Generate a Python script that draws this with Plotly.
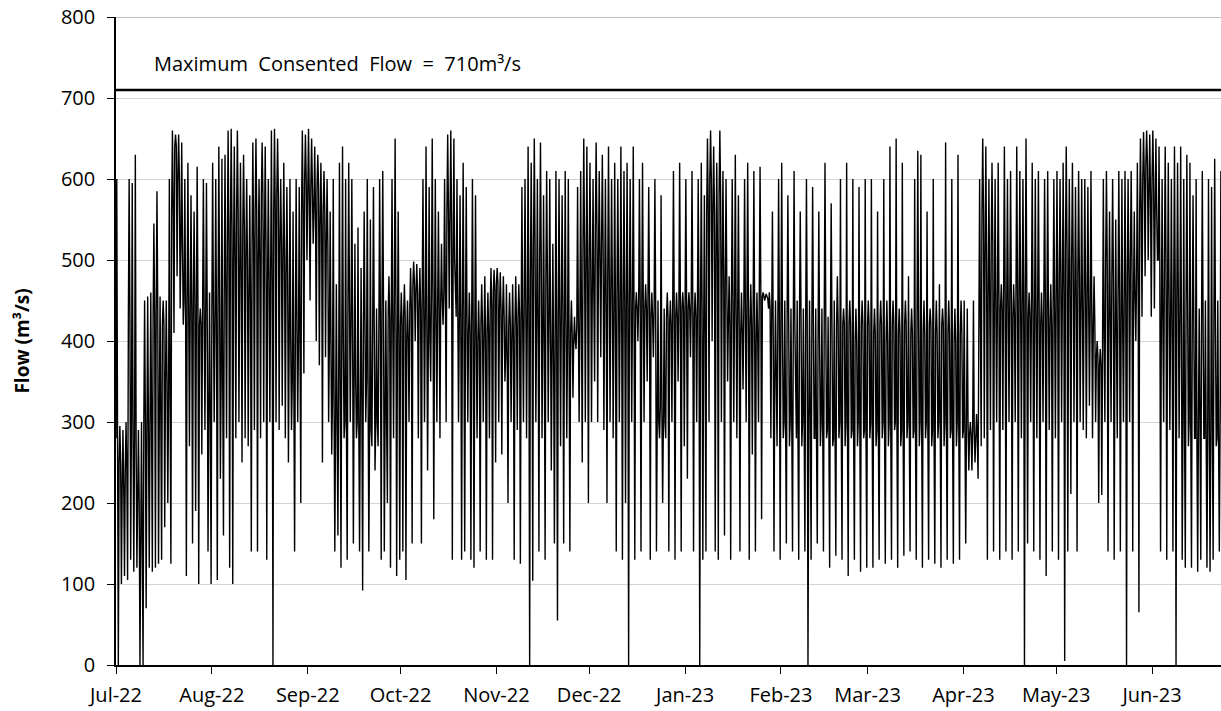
import pandas as pd
import plotly.graph_objects as go

start_date = "2022-07-01"
end_date = "2023-06-23 07:00"

# daily peak, typical (band) and trough flows, m3/s (Jul-22 .. Jun-23)
hi = [
    600, 295, 290, 300, 600, 595, 630, 290, 300, 450, 455, 460, 545, 585, 455, 450, 450, 600, 660, 655, 655, 645, 600, 620, 580, 560, 615, 440, 600, 595, 460,
    620, 600, 640, 625, 630, 660, 662, 640, 660, 620, 630, 600, 580, 645, 650, 600, 645, 640, 600, 660, 662, 650, 600, 620, 590, 600, 560, 600, 590, 660, 655,
    662, 650, 640, 630, 620, 610, 600, 560, 600, 470, 620, 640, 600, 620, 600, 520, 540, 490, 560, 600, 550, 590, 440, 600, 610, 450, 480, 600, 650, 560,
    460, 470, 450, 490, 498, 495, 490, 600, 640, 590, 650, 600, 560, 520, 600, 655, 660, 650, 600, 580, 620, 590, 460, 600, 580, 450, 470, 480, 460, 490, 488,
    490, 485, 480, 470, 460, 470, 480, 470, 590, 600, 640, 620, 650, 600, 645, 580, 610, 600, 520, 610, 600, 580, 610, 600, 450, 430, 590, 610, 650, 640,
    620, 600, 645, 610, 630, 600, 640, 600, 620, 600, 640, 610, 620, 600, 640, 460, 600, 620, 470, 590, 460, 600, 450, 580, 440, 460, 450, 610, 460, 620, 460,
    600, 460, 610, 460, 600, 620, 580, 650, 660, 640, 620, 660, 610, 600, 480, 600, 630, 580, 460, 600, 620, 470, 610, 460, 615, 460, 458, 460, 560, 450, 600,
    620, 450, 580, 440, 610, 450, 560, 440, 600, 450, 590, 440, 560, 440, 620, 430, 570, 450, 480, 600, 440, 620, 450, 600, 440, 590, 450, 600,
    450, 600, 440, 560, 450, 600, 450, 640, 450, 650, 440, 620, 450, 480, 440, 600, 635, 630, 450, 560, 440, 600, 450, 470, 440, 645, 450, 600, 440, 630, 450,
    450, 440, 300, 450, 310, 600, 650, 640, 600, 620, 600, 620, 470, 640, 600, 610, 470, 640, 610, 600, 650, 460, 620, 600, 610, 460, 600, 610, 470, 600,
    610, 600, 620, 640, 600, 620, 590, 610, 600, 600, 590, 610, 480, 400, 390, 600, 610, 560, 600, 550, 610, 600, 610, 600, 610, 560, 620, 650, 658, 660, 655,
    660, 650, 640, 600, 640, 620, 600, 640, 620, 640, 600, 630, 620, 580, 600, 440, 610, 450, 600, 590, 625, 450, 610,
]
mid = [
    280, 250, 220, 240, 430, 300, 280, 200, 150, 300, 290, 300, 430, 440, 300, 420, 350, 330, 560, 640, 600, 520, 450, 445, 440, 450, 440, 420, 440, 430, 300,
    440, 420, 450, 350, 460, 520, 540, 500, 560, 480, 540, 500, 450, 520, 560, 500, 580, 520, 470, 480, 560, 580, 520, 500, 480, 400, 350, 420, 400, 560, 600,
    580, 590, 560, 590, 540, 560, 520, 400, 330, 300, 350, 400, 300, 450, 420, 350, 300, 320, 420, 350, 290, 420, 300, 420, 440, 300, 430, 420, 450, 400,
    420, 430, 400, 440, 470, 460, 440, 450, 430, 400, 460, 420, 440, 450, 460, 560, 550, 500, 430, 420, 430, 420, 410, 420, 400, 400, 420, 400, 410, 440, 460,
    470, 440, 430, 380, 420, 400, 420, 430, 420, 450, 430, 480, 520, 420, 500, 400, 480, 420, 380, 400, 430, 440, 420, 400, 410, 400, 420, 430, 520, 480,
    500, 460, 540, 500, 520, 450, 480, 460, 430, 460, 440, 450, 440, 450, 440, 440, 450, 440, 440, 450, 430, 440, 300, 320, 300, 430, 420, 440, 430, 440, 440,
    440, 440, 450, 430, 440, 440, 400, 560, 600, 560, 500, 580, 480, 470, 420, 450, 440, 430, 410, 440, 440, 420, 430, 400, 460, 455, 455, 440, 420, 350, 420,
    420, 300, 430, 300, 420, 280, 430, 300, 420, 300, 420, 280, 400, 300, 430, 290, 420, 280, 420, 300, 420, 300, 420, 290, 400, 300, 420, 290,
    420, 300, 410, 290, 420, 300, 400, 300, 420, 300, 410, 290, 420, 300, 410, 290, 420, 300, 410, 300, 420, 290, 410, 300, 420, 300, 410, 290, 400, 300, 410,
    290, 300, 285, 290, 280, 420, 560, 500, 450, 520, 440, 450, 440, 460, 440, 450, 430, 460, 450, 440, 460, 430, 440, 430, 440, 420, 450, 430, 420, 440,
    450, 480, 460, 520, 460, 500, 450, 480, 440, 460, 450, 440, 420, 380, 370, 400, 500, 420, 480, 400, 460, 420, 450, 480, 500, 450, 480, 560, 600, 620, 580,
    600, 560, 500, 420, 500, 450, 420, 460, 450, 420, 300, 450, 300, 420, 280, 300, 420, 280, 300, 290, 420, 280, 300,
]
lo = [
    0, 100, 110, 105, 130, 115, 120, 0, 0, 70, 120, 115, 120, 125, 130, 170, 200, 125, 410, 480, 440, 420, 110, 270, 150, 190, 100, 260, 290, 140, 100,
    300, 105, 230, 160, 280, 120, 100, 280, 300, 250, 280, 270, 140, 290, 140, 280, 300, 130, 300, 0, 300, 290, 320, 280, 250, 290, 140, 300, 200, 360, 500,
    450, 520, 400, 370, 250, 380, 300, 260, 140, 160, 120, 280, 130, 300, 150, 280, 140, 92, 300, 140, 270, 240, 270, 130, 140, 200, 120, 280, 110, 130,
    140, 105, 300, 150, 400, 280, 150, 300, 240, 350, 180, 300, 280, 420, 300, 440, 130, 440, 300, 130, 140, 300, 130, 120, 280, 140, 300, 130, 280, 130, 250,
    300, 260, 350, 200, 300, 130, 290, 125, 300, 280, 0, 104, 300, 140, 280, 130, 300, 240, 150, 55, 270, 150, 280, 140, 330, 390, 300, 250, 300, 200,
    300, 350, 300, 380, 290, 200, 300, 280, 140, 300, 130, 200, 0, 300, 130, 400, 140, 300, 350, 130, 380, 140, 280, 200, 280, 140, 300, 130, 350, 140, 270,
    230, 380, 140, 300, 0, 130, 140, 300, 400, 140, 130, 300, 160, 350, 130, 300, 280, 140, 340, 300, 130, 260, 140, 300, 180, 450, 452, 280, 140, 270, 130,
    280, 150, 270, 140, 290, 130, 270, 140, 0, 130, 280, 150, 270, 140, 280, 120, 270, 135, 280, 130, 270, 110, 280, 130, 270, 115, 280, 120,
    280, 120, 270, 130, 280, 125, 270, 130, 290, 120, 270, 135, 280, 140, 280, 130, 270, 120, 280, 130, 270, 125, 280, 120, 270, 130, 280, 125, 270, 130, 280,
    150, 240, 240, 250, 230, 270, 280, 130, 290, 140, 300, 130, 290, 140, 300, 130, 300, 140, 280, 0, 150, 300, 140, 280, 130, 300, 110, 290, 140, 280,
    130, 300, 5, 140, 211, 300, 140, 300, 290, 280, 320, 280, 300, 200, 210, 300, 140, 300, 130, 280, 140, 300, 0, 300, 140, 400, 65, 430, 480, 500, 430,
    440, 500, 140, 300, 130, 290, 140, 0, 280, 130, 120, 270, 120, 280, 115, 130, 280, 120, 115, 130, 270, 140, 250,
]

month_ticks = ["2022-07-01", "2022-08-01", "2022-09-01", "2022-10-01", "2022-11-01", "2022-12-01",
               "2023-01-01", "2023-02-01", "2023-03-01", "2023-04-01", "2023-05-01", "2023-06-01"]
month_labels = ["Jul-22", "Aug-22", "Sep-22", "Oct-22", "Nov-22", "Dec-22",
                "Jan-23", "Feb-23", "Mar-23", "Apr-23", "May-23", "Jun-23"]
consent_limit = 710
y_ticks = [0, 100, 200, 300, 400, 500, 600, 700, 800]

days = pd.date_range(start_date, periods=len(hi), freq="D")
times, flows = [], []
for d, h, m, l in zip(days, hi, mid, lo):
    times += [d, d + pd.Timedelta(hours=6), d + pd.Timedelta(hours=12), d + pd.Timedelta(hours=18)]
    flows += [m, h, m, l]

FONT = "Open Sans"
fig = go.Figure()
fig.add_trace(go.Scatter(x=times, y=flows, mode="lines",
                         line=dict(color="black", width=1.4), showlegend=False,
                         hoverinfo="skip"))

fig.add_shape(type="line", xref="paper", yref="y", x0=0, x1=1, y0=consent_limit, y1=consent_limit,
              line=dict(color="black", width=2.5))
fig.add_shape(type="line", xref="paper", yref="y", x0=0, x1=1, y0=800, y1=800,
              line=dict(color="#7f7f7f", width=1.2))
fig.add_annotation(xref="paper", yref="y", x=0.033, y=742, xanchor="left", yanchor="middle",
                   text="Maximum  Consented  Flow  =  %dm³/s" % consent_limit, showarrow=False,
                   font=dict(family=FONT, size=20, color="black"))

fig.update_layout(
    width=1221, height=711,
    margin=dict(l=116, r=0, t=17, b=46),
    paper_bgcolor="white", plot_bgcolor="white",
    font=dict(family=FONT, color="black"),
    xaxis=dict(type="date", range=[start_date, end_date], tickvals=month_ticks, ticktext=month_labels,
               ticks="outside", ticklen=7, tickcolor="black", tickwidth=1.2, ticklabelstandoff=4,
               showline=True, linecolor="black", linewidth=1.5, showgrid=False, zeroline=False,
               tickfont=dict(family=FONT, size=20, color="black")),
    yaxis=dict(range=[0, 800], tickvals=y_ticks, ticks="outside", ticklen=7, tickcolor="black", tickwidth=1.2,
               ticklabelstandoff=8,
               showline=True, linecolor="black", linewidth=1.5, showgrid=True, gridcolor="#d4d4d4",
               gridwidth=1, zeroline=False, tickfont=dict(family=FONT, size=20, color="black"),
               title=dict(text="<b>Flow (m³/s)</b>", font=dict(family=FONT, size=19, color="black"),
                          standoff=26)),
)

fig.write_html("out.html")
